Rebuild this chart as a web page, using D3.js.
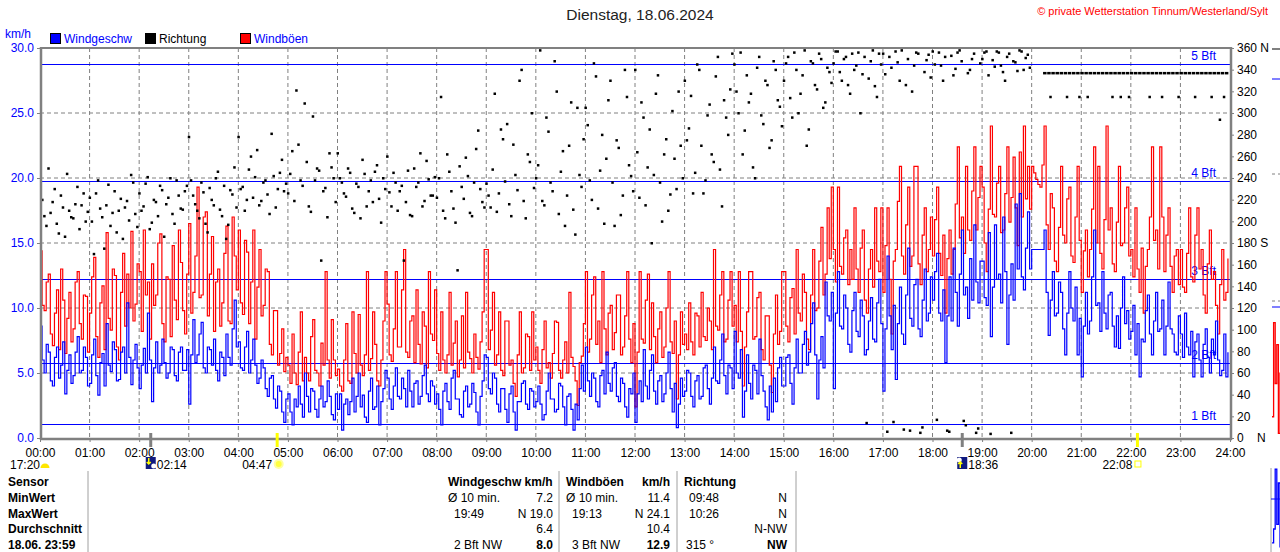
<!DOCTYPE html>
<html>
<head>
<meta charset="utf-8">
<script src="https://cdn.jsdelivr.net/npm/d3@7"></script>
<style>
body { margin: 0; background: #fff; }
svg { display: block; font-family: "Liberation Sans", Arial, sans-serif; }
</style>
</head>
<body>
<svg id="chart" width="1280" height="552"></svg>
<script>
// Wind: ein Wert alle 2,5 Minuten (00:00 ... 23:57)
const hours = d3.range(0, 25);
const speedTicks = [0, 5, 10, 15, 20, 25, 30];
const dirTicks = d3.range(0, 361, 20);
const bftLevels = [1.1, 5.8, 12.2, 19.8, 28.8];
const bftLabels = ["1 Bft", "2 Bft", "3 Bft", "4 Bft", "5 Bft"];

const gust = [
  14.4, 10.2, 9.8, 12.0, 12.6, 8.0, 7.1, 9.6, 11.4, 6.8, 13.0, 10.6, 6.5, 9.2, 11.2, 7.4, 8.4, 12.0, 12.8, 8.8, 7.6, 11.0, 10.9, 6.6,
  9.6, 12.4, 13.9, 7.8, 6.2, 10.4, 11.7, 6.8, 15.8, 9.2, 8.3, 13.0, 12.5, 7.0, 6.0, 11.2, 14.2, 8.6, 12.6, 10.0, 15.9, 9.0, 10.3, 13.4,
  12.8, 8.2, 16.0, 11.0, 12.0, 7.6, 13.4, 10.2, 11.0, 15.0, 15.7, 8.8, 7.4, 12.4, 12.2, 7.8, 14.8, 10.6, 9.1, 16.0, 13.5, 9.8, 8.0, 12.6,
  16.5, 9.6, 11.2, 14.0, 19.3, 10.8, 11.0, 17.0, 17.4, 9.4, 12.6, 15.5, 8.2, 12.0, 13.0, 8.6, 10.4, 14.2, 16.3, 9.0, 8.8, 17.0, 14.0, 11.4,
  16.0, 10.4, 9.5, 15.2, 14.3, 8.8, 12.0, 16.0, 7.6, 11.6, 14.5, 9.4, 10.2, 13.0, 12.8, 7.2, 6.4, 9.8, 9.8, 5.6, 6.5, 8.4, 5.1, 6.2,
  5.6, 4.2, 8.0, 5.0, 4.1, 6.6, 9.7, 4.4, 6.2, 5.0, 4.4, 7.8, 9.1, 5.2, 5.0, 4.0, 7.3, 5.6, 12.8, 6.0, 4.6, 9.1, 6.0, 4.8,
  5.3, 4.0, 3.6, 6.0, 8.8, 4.4, 4.2, 9.7, 6.5, 5.0, 9.5, 5.6, 4.8, 6.4, 12.8, 5.2, 6.1, 9.7, 7.2, 4.4, 4.0, 6.0, 9.0, 12.8,
  10.3, 6.4, 5.9, 8.4, 12.8, 7.0, 7.0, 11.4, 14.5, 6.6, 6.2, 9.0, 9.4, 5.8, 11.4, 7.2, 5.7, 9.7, 8.6, 5.4, 12.8, 8.0, 7.5, 11.4,
  6.5, 5.2, 9.7, 6.0, 5.0, 6.4, 11.2, 5.6, 7.3, 9.0, 4.7, 6.0, 9.4, 5.4, 11.2, 6.6, 6.1, 5.0, 8.0, 6.2, 5.3, 7.4, 9.7, 14.5,
  14.5, 6.8, 8.3, 11.2, 5.6, 6.4, 9.7, 5.2, 4.8, 9.0, 9.0, 5.6, 6.0, 4.2, 3.2, 6.4, 9.7, 5.0, 5.4, 8.0, 7.8, 5.2, 9.7, 6.0,
  7.0, 5.2, 4.2, 6.8, 9.0, 5.4, 5.8, 4.6, 6.5, 9.0, 8.9, 5.2, 4.6, 6.0, 7.4, 5.0, 11.2, 6.2, 5.5, 4.4, 2.5, 5.8, 6.3, 8.8,
  12.8, 6.6, 7.6, 11.0, 12.4, 7.2, 9.0, 5.8, 12.8, 8.4, 6.4, 9.6, 10.2, 6.8, 8.1, 11.0, 11.0, 6.4, 7.0, 9.4, 12.8, 7.6, 5.8, 8.8,
  2.4, 6.6, 12.8, 7.6, 7.3, 10.6, 12.6, 6.8, 10.4, 7.8, 5.8, 8.4, 9.7, 6.2, 7.0, 10.0, 12.8, 7.4, 6.5, 9.0, 3.0, 6.4, 9.7, 7.2,
  8.0, 6.8, 10.4, 7.4, 6.4, 9.6, 9.4, 7.0, 11.2, 7.8, 7.5, 10.0, 9.0, 6.8, 14.5, 8.6, 8.3, 11.0, 12.8, 7.4, 7.6, 10.6, 12.8, 8.6,
  10.2, 7.4, 12.8, 8.2, 4.0, 7.0, 9.7, 12.8, 12.8, 7.6, 7.8, 10.8, 11.2, 6.8, 6.0, 9.4, 9.4, 5.6, 3.5, 8.0, 11.0, 7.2, 8.2, 12.8,
  12.8, 8.6, 7.4, 10.8, 11.5, 8.0, 14.5, 9.6, 9.0, 12.6, 11.2, 7.6, 6.8, 11.0, 14.5, 9.8, 10.0, 13.6, 16.2, 11.0, 12.6, 17.7, 13.8, 19.3,
  14.5, 12.0, 19.3, 13.2, 12.6, 15.4, 16.0, 11.8, 14.5, 12.2, 17.7, 13.0, 11.2, 14.6, 16.0, 10.6, 9.6, 13.0, 14.5, 11.6, 17.7, 13.6, 12.8, 17.7,
  11.2, 14.8, 17.7, 12.2, 8.0, 13.6, 14.5, 18.2, 20.9, 14.0, 12.6, 16.4, 19.3, 13.2, 14.0, 20.9, 20.9, 13.4, 11.8, 15.6, 17.7, 12.8, 14.5, 17.0,
  14.0, 16.8, 19.3, 14.2, 12.5, 15.6, 9.6, 13.8, 16.0, 12.6, 14.5, 18.0, 22.4, 15.4, 17.0, 14.2, 20.9, 16.0, 15.2, 19.0, 22.4, 16.0, 18.5, 20.9,
  19.3, 15.0, 12.8, 17.6, 24.0, 17.2, 17.0, 19.6, 20.9, 15.8, 16.0, 18.8, 22.4, 16.6, 18.5, 21.6, 17.7, 14.8, 22.0, 17.0, 24.0, 18.4, 20.9, 17.6,
  20.9, 20.4, 19.9, 19.5, 19.3, 21.0, 24.0, 16.4, 14.5, 18.8, 17.7, 13.6, 12.8, 16.2, 20.9, 15.6, 15.0, 18.4, 19.3, 14.0, 13.5, 17.0, 20.9, 15.2,
  11.2, 14.4, 16.0, 12.4, 14.5, 17.6, 22.4, 15.0, 20.9, 14.2, 13.0, 16.8, 24.0, 16.0, 17.7, 13.4, 12.8, 16.6, 20.9, 14.8, 15.0, 17.7, 19.3, 14.0,
  14.5, 12.4, 17.7, 13.0, 11.2, 14.6, 9.6, 13.2, 14.5, 17.0, 22.4, 15.2, 16.0, 13.0, 22.4, 17.0, 12.8, 15.6, 17.7, 13.2, 11.2, 14.0, 14.5, 11.8,
  14.5, 11.6, 11.2, 14.2, 17.7, 12.4, 12.0, 15.6, 17.7, 13.0, 14.5, 11.0, 9.6, 13.4, 16.0, 12.2, 12.8, 10.2, 8.0, 11.8, 14.5, 10.6, 11.2, 13.8
];

const speed = [
  8.6, 6.0, 5.0, 7.2, 6.6, 4.4, 4.0, 6.2, 7.0, 4.6, 5.6, 7.4, 3.4, 5.2, 6.4, 4.2, 4.8, 6.6, 7.8, 5.0, 5.2, 7.0, 6.2, 4.0,
  4.2, 6.4, 7.6, 4.8, 3.3, 5.8, 6.5, 4.0, 8.8, 5.6, 5.1, 7.4, 6.8, 4.4, 4.5, 6.6, 7.0, 5.0, 10.4, 6.2, 4.1, 6.0, 7.2, 5.4,
  3.8, 5.6, 6.9, 5.0, 9.6, 6.0, 2.8, 5.4, 7.4, 5.0, 5.6, 7.6, 5.8, 4.6, 5.0, 7.0, 6.8, 4.8, 4.4, 6.6, 7.0, 5.2, 5.2, 6.8,
  2.6, 6.4, 9.1, 5.8, 6.4, 8.0, 8.9, 5.4, 5.0, 7.0, 6.8, 5.6, 7.6, 5.2, 4.4, 6.6, 6.2, 4.8, 8.0, 6.2, 5.6, 8.4, 10.6, 7.0,
  7.4, 5.4, 5.2, 7.0, 8.2, 5.0, 6.0, 7.6, 5.6, 4.2, 4.6, 6.0, 5.4, 3.8, 3.2, 4.6, 4.8, 3.0, 2.3, 4.0, 3.6, 2.0, 1.2, 3.0,
  3.4, 2.0, 1.0, 3.0, 2.4, 4.0, 2.6, 1.6, 5.0, 3.2, 2.0, 3.8, 3.6, 2.2, 1.6, 3.0, 4.0, 2.4, 2.8, 4.4, 3.2, 1.8, 1.4, 3.4,
  2.2, 3.4, 0.6, 2.6, 3.0, 1.8, 2.8, 4.6, 2.0, 3.2, 5.0, 2.4, 3.3, 1.6, 1.2, 3.6, 4.6, 2.2, 2.4, 4.0, 1.0, 2.8, 3.8, 5.2,
  4.6, 3.0, 2.2, 4.0, 5.4, 3.2, 3.0, 4.6, 3.8, 2.4, 5.2, 3.6, 2.4, 4.2, 4.4, 2.6, 3.2, 4.8, 5.6, 3.4, 2.8, 4.4, 4.0, 2.6,
  3.4, 2.2, 1.0, 3.6, 4.2, 2.8, 2.2, 4.6, 5.2, 3.0, 3.0, 1.8, 1.6, 3.6, 4.0, 2.4, 2.6, 4.2, 3.5, 2.0, 1.0, 3.2, 4.4, 6.4,
  6.2, 3.8, 3.4, 5.0, 4.6, 2.6, 2.0, 3.8, 3.8, 2.2, 1.2, 3.4, 4.0, 2.0, 0.6, 2.8, 2.8, 4.2, 4.4, 2.6, 2.2, 3.8, 3.6, 2.4,
  2.8, 4.0, 2.6, 1.4, 1.8, 3.6, 5.0, 3.0, 3.0, 2.0, 2.2, 4.2, 4.0, 2.4, 1.0, 3.2, 3.4, 2.2, 0.6, 2.6, 1.4, 3.8, 5.6, 3.6,
  7.0, 4.4, 3.2, 5.0, 4.6, 2.8, 2.4, 4.8, 5.2, 3.4, 6.6, 4.2, 3.6, 5.4, 5.8, 3.2, 2.8, 4.6, 4.2, 2.4, 1.6, 3.8, 3.4, 5.0,
  1.2, 3.4, 4.4, 2.8, 6.8, 4.0, 3.0, 5.2, 6.4, 3.6, 2.6, 4.4, 4.8, 2.8, 3.4, 5.0, 6.6, 3.8, 2.0, 4.2, 0.8, 2.6, 4.6, 3.2,
  3.6, 5.2, 5.0, 3.2, 2.4, 4.4, 4.8, 3.0, 3.2, 5.4, 5.6, 3.8, 2.6, 4.6, 7.0, 4.4, 4.2, 6.0, 8.0, 4.8, 3.4, 5.6, 5.4, 3.8,
  8.2, 5.0, 4.6, 6.8, 1.6, 3.6, 6.4, 4.2, 3.0, 5.6, 5.2, 3.4, 7.6, 4.8, 3.6, 2.4, 1.4, 4.0, 2.0, 4.6, 2.8, 5.4, 6.2, 4.0,
  4.0, 6.2, 6.4, 4.2, 2.6, 5.4, 7.6, 5.0, 5.0, 7.2, 8.2, 5.6, 6.6, 8.8, 10.4, 6.4, 3.0, 6.0, 7.8, 5.4, 12.0, 9.4, 9.0, 11.2,
  3.8, 9.6, 12.8, 8.6, 8.4, 11.0, 10.0, 7.2, 6.6, 9.8, 11.2, 8.2, 7.8, 10.6, 9.4, 6.4, 6.8, 9.0, 10.8, 7.6, 7.4, 10.4, 12.2, 8.8,
  3.6, 8.4, 14.0, 9.4, 6.8, 10.2, 4.5, 8.8, 11.6, 8.0, 7.2, 11.0, 14.6, 9.2, 8.6, 11.8, 12.2, 8.4, 7.8, 10.6, 13.0, 9.0, 9.6, 12.4,
  10.6, 12.8, 14.2, 9.6, 9.0, 11.4, 5.8, 9.4, 12.4, 9.0, 14.6, 11.2, 8.6, 12.6, 16.0, 11.0, 11.6, 9.2, 13.8, 10.6, 16.4, 12.0, 10.4, 13.6,
  13.6, 10.8, 10.2, 15.8, 7.8, 11.6, 16.4, 12.2, 12.6, 10.4, 17.0, 12.8, 7.2, 11.0, 13.4, 10.6, 18.0, 13.0, 18.8, 12.4, 11.4, 14.6, 17.4, 13.0,
  14.5, 14.5, 14.5, 14.5, 14.5, 14.5, 16.0, 11.2, 7.9, 10.6, 12.8, 9.4, 9.6, 12.0, 11.2, 8.4, 6.4, 9.6, 12.8, 10.0, 9.0, 11.6, 6.4, 9.2,
  4.7, 8.6, 11.2, 8.0, 9.0, 12.4, 16.0, 10.2, 10.4, 8.2, 12.8, 9.6, 8.4, 11.0, 11.2, 8.6, 7.0, 9.4, 6.9, 10.0, 12.4, 8.8, 9.8, 7.6,
  8.2, 10.2, 6.4, 8.8, 4.7, 7.6, 7.4, 9.8, 11.0, 8.0, 6.4, 9.0, 11.2, 8.2, 8.4, 10.6, 6.4, 8.6, 12.0, 8.4, 8.0, 6.6, 6.4, 9.4,
  8.0, 6.2, 9.6, 7.0, 6.4, 8.2, 4.7, 7.4, 8.0, 6.0, 4.7, 7.2, 8.4, 6.2, 5.0, 7.6, 6.4, 9.0, 6.0, 4.8, 5.2, 8.0, 4.7, 6.6
];

// Richtung in Grad: dirA zur vollen 5-Minute, dirB 2,5 Minuten später
const dirA = [
  212, 205, 249, 218, 198, 224, 186, 210, 203, 232, 215, 200,
  222, 170, 238, 204, 215, 196, 228, 210, 184, 219, 243, 207,
  226, 214, 241, 199, 218, 233, 186, 222, 207, 238, 212, 228,
  278, 224, 210, 236, 198, 231, 215, 246, 205, 184, 229, 250,
  278, 232, 220, 260, 241, 215, 236, 225, 281, 213, 245, 228,
  226, 265, 321, 238, 309, 214, 297, 249, 164, 231, 263, 240,
  263, 236, 223, 245, 208, 232, 257, 214, 238, 246, 221, 240,
  260, 214, 236, 228, 164, 247, 205, 232, 263, 219, 239, 224,
  222, 315, 203, 246, 212, 155, 232, 259, 208, 236, 284, 218,
  235, 213, 318, 226, 276, 290, 205, 243, 330, 219, 262, 300,
  240, 358, 215, 283, 228, 320, 246, 196, 270, 211, 305, 232,
  305, 238, 346, 212, 280, 258, 330, 196, 268, 224, 315, 242,
  340, 222, 296, 250, 180, 318, 236, 262, 210, 302, 230, 270,
  330, 286, 226, 345, 270, 238, 308, 255, 352, 214, 296, 322,
  345, 300, 262, 335, 318, 240, 352, 290, 326, 275, 340, 306,
  330, 352, 296, 340, 318, 358, 285, 346, 322, 350, 310, 338,
  346, 357, 330, 352, 318, 340, 356, 336, 14, 348, 325, 355,
  355, 6, 342, 357, 330, 8, 350, 320, 356, 5, 338, 354,
  357, 17, 344, 352, 6, 335, 356, 348, 12, 340, 355, 9,
  350, 357, 4, 343, 356, 338, 352, 5, 347, 358, 340, 354,
  null, null, null, 337, 337, 337, 337, 337, 337, 337, 337, 337,
  337, 337, 337, 337, 337, 337, 337, 337, 337, 337, 337, 337,
  337, 337, 337, 337, 337, 337, 337, 337, 337, 337, 337, 337,
  337, 337, 337, 337, 337, 337, 337, 337, 337, 337, 337, 337
];

const dirB = [
  220, 196, 208, 230, 189, 213, 244, 204, 216, 193, 226, 209,
  200, 226, 212, 175, 234, 208, 190, 221, 213, 201, 236, 195,
  210, 235, 193, 220, 205, 229, 216, 240, 198, 224, 211, 233,
  238, 216, 203, 227, 190, 220, 240, 211, 233, 197, 225, 213,
  230, 210, 248, 222, 266, 219, 238, 207, 242, 230, 257, 235,
  244, 219, 271, 233, 255, 209, 238, 247, 228, 204, 250, 218,
  240, 226, 249, 212, 235, 203, 244, 228, 218, 252, 199, 230,
  227, 245, 210, 233, 218, 206, 249, 236, 214, 256, 224, 241,
  240, 210, 262, 228, 199, 251, 221, 242, 205, 267, 230, 213,
  224, 248, 209, 285, 237, 216, 271, 229, 340, 203, 255, 231,
  252, 219, 296, 236, 348, 207, 265, 224, 310, 188, 243, 276,
  289, 220, 334, 247, 198, 312, 236, 275, 206, 340, 252, 228,
  264, 310, 215, 285, 243, 335, 200, 276, 225, 258, 320, 240,
  275, 316, 245, 340, 226, 298, 262, 334, 248, 312, 280, 355,
  320, 356, 284, 310, 250, 342, 298, 330, 268, 348, 312, 288,
  346, 314, 356, 300, 335, 270, 348, 326, 355, 305, 342, 328,
  357, 338, 350, 326, 355, 344, 300, 352, 332, 358, 315, 345,
  336, 352, 15, 347, 358, 326, 7, 344, 355, 10, 349, 333,
  345, 356, 330, 7, 353, 341, 358, 16, 337, 350, 5, 346,
  356, 335, 349, 357, 344, 330, 355, 348, 339, 357, 351, 342,
  null, null, null, null, 315, null, null, null, 315, null, null, 315,
  null, 315, null, null, null, null, null, 315, null, 315, null, 315,
  null, null, null, null, 315, null, null, 315, null, null, null, 315,
  null, null, null, 315, null, null, null, 315, null, 294, 315, null
];

const legendItems = [
  { name: "Windgeschw", box: "#0000ff", text: "#0000ff" },
  { name: "Richtung", box: "#000000", text: "#000000" },
  { name: "Windböen", box: "#ff0000", text: "#0000ff" }
];

const sunEvents = [
  { time: "02:14", kind: "moonset" },
  { time: "04:47", kind: "sunrise" },
  { time: "18:36", kind: "moonrise" },
  { time: "22:08", kind: "sunset" }
];

const tableRows = ["Sensor", "MinWert", "MaxWert", "Durchschnitt", "18.06. 23:59"];
const speedCol = [["Windgeschw km/h", ""], ["Ø 10 min.", "7.2"], ["19:49", "N 19.0"], ["", "6.4"], ["2 Bft NW", "8.0"]];
const gustCol = [["Windböen", "km/h"], ["Ø 10 min.", "11.4"], ["19:13", "N 24.1"], ["", "10.4"], ["3 Bft NW", "12.9"]];
const dirCol = [["Richtung", ""], ["09:48", "N"], ["10:26", "N"], ["", "N-NW"], ["315 °", "NW"]];

// Reste der nächsten Grafik am rechten Rand
const edgeGust = [3.0, 11.5, 6.0, 9.5, 1.5, 7.0];
const edgeSpeed = [1.0, 2.5, 9.0, 3.0, 7.5, 0.5];

const FONT = "Liberation Sans, Arial, sans-serif";
const GRAY = "#808080";
const svg = d3.select("#chart");

const x = d3.scaleLinear().domain([0, 1440]).range([40, 1230]);
const y = d3.scaleLinear().domain([0, 30]).range([438, 48]);
const yDir = d3.scaleLinear().domain([0, 360]).range([438, 48]);
const toMin = s => +s.slice(0, 2) * 60 + +s.slice(3, 5);

// Titel
svg.append("text").attr("x", 640).attr("y", 20).attr("text-anchor", "middle")
  .attr("font-size", 15.5).attr("fill", "#222").text("Dienstag, 18.06.2024");
svg.append("text").attr("x", 1268).attr("y", 15).attr("text-anchor", "end")
  .attr("font-size", 11).attr("fill", "#ff0000")
  .text("© private Wetterstation Tinnum/Westerland/Sylt");

svg.append("text").attr("x", 5).attr("y", 38).attr("font-size", 12)
  .attr("fill", "#0000ff").text("km/h");

// Legende
const leg = svg.append("g").selectAll("g").data(legendItems).join("g")
  .attr("transform", (d, i) => `translate(${50 + i * 95},33)`);
leg.append("rect").attr("x", 0.5).attr("y", 0.5).attr("width", 10).attr("height", 10)
  .attr("fill", d => d.box).attr("stroke", "#000");
leg.append("text").attr("x", 14).attr("y", 9.5).attr("font-size", 12)
  .attr("fill", d => d.text).text(d => d.name);

// Gitter
const grid = svg.append("g");
grid.selectAll("line.v").data(hours.slice(1, 24)).join("line").attr("class", "v")
  .attr("x1", h => x(h * 60)).attr("x2", h => x(h * 60))
  .attr("y1", 48).attr("y2", 438)
  .attr("stroke", GRAY).attr("stroke-dasharray", "4,3");
grid.selectAll("line.h").data(speedTicks.slice(1, 6)).join("line").attr("class", "h")
  .attr("x1", 40).attr("x2", 1230)
  .attr("y1", d => y(d)).attr("y2", d => y(d))
  .attr("stroke", GRAY).attr("stroke-dasharray", "4,3");

// Beaufort-Linien
const bft = svg.append("g");
bft.selectAll("line").data(bftLevels).join("line")
  .attr("x1", 40).attr("x2", 1230)
  .attr("y1", d => Math.round(y(d)) + 0.5).attr("y2", d => Math.round(y(d)) + 0.5)
  .attr("stroke", "#0000ff");
bft.selectAll("text").data(bftLevels).join("text")
  .attr("x", 1216).attr("y", d => y(d) - 4).attr("text-anchor", "end")
  .attr("font-size", 12).attr("fill", "#0000ff")
  .text((d, i) => bftLabels[i]);

// Daten
svg.append("clipPath").attr("id", "plot")
  .append("rect").attr("x", 40).attr("y", 48).attr("width", 1190).attr("height", 390);
const data = svg.append("g").attr("clip-path", "url(#plot)");

const line = d3.line()
  .defined(d => d != null)
  .x((d, i) => x(i * 2.5))
  .y(d => y(d))
  .curve(d3.curveStepAfter);

data.append("path").datum(gust).attr("d", line)
  .attr("fill", "none").attr("stroke", "#ff0000").attr("stroke-width", 1.2);
data.append("path").datum(speed).attr("d", line)
  .attr("fill", "none").attr("stroke", "#0000ff").attr("stroke-width", 1.2);

const dots = dirA.map((d, i) => ({ t: i * 5, d }))
  .concat(dirB.map((d, i) => ({ t: i * 5 + 2.5, d })))
  .filter(p => p.d != null);
data.append("g").selectAll("rect").data(dots).join("rect")
  .attr("x", p => x(p.t) - 1).attr("y", p => yDir(p.d) - 1)
  .attr("width", p => p.t >= 1200 && p.d === 337 ? 3.5 : 2.5).attr("height", 2.5)
  .attr("fill", "#000");

// Achsen
const axL = svg.append("g").attr("transform", "translate(40,0)")
  .call(d3.axisLeft(y).tickValues(speedTicks).tickFormat(d3.format(".1f")).tickSize(3).tickPadding(3));
axL.attr("font-family", FONT).attr("font-size", 12);
axL.select(".domain").remove();
axL.selectAll("line").attr("stroke", GRAY);
axL.selectAll("text").attr("fill", "#0000ff");

const dirFmt = d => d === 360 ? "360 N" : d === 180 ? "180 S" : d === 0 ? "0\u00a0\u00a0\u00a0\u00a0N" : d;
const axR = svg.append("g").attr("transform", "translate(1230,0)")
  .call(d3.axisRight(yDir).tickValues(dirTicks).tickFormat(dirFmt).tickSize(4).tickPadding(3));
axR.attr("font-family", FONT).attr("font-size", 12);
axR.select(".domain").remove();
axR.selectAll("line").attr("stroke", GRAY);
axR.selectAll("text").attr("fill", "#000");

const axB = svg.append("g").attr("transform", "translate(0,438)")
  .call(d3.axisBottom(x).tickValues(hours.map(h => h * 60))
    .tickFormat(m => String(m / 60).padStart(2, "0") + ":00").tickSize(4).tickPadding(6));
axB.attr("font-family", FONT).attr("font-size", 12);
axB.select(".domain").remove();
axB.selectAll("line").attr("stroke", GRAY);
axB.selectAll("text").attr("fill", "#000").attr("y", 10);

// Rahmen
const frame = svg.append("g").attr("stroke", GRAY).attr("fill", "none");
frame.append("line").attr("x1", 40).attr("x2", 1231).attr("y1", 48).attr("y2", 48).attr("stroke-width", 2);
frame.append("line").attr("x1", 41).attr("x2", 41).attr("y1", 47).attr("y2", 440).attr("stroke-width", 2.5);
frame.append("line").attr("x1", 1231).attr("x2", 1231).attr("y1", 47).attr("y2", 440).attr("stroke-width", 2.5);
frame.append("line").attr("x1", 40).attr("x2", 1232).attr("y1", 439).attr("y2", 439).attr("stroke-width", 2.5);

// Sonnen- und Mondzeiten
const ev = svg.append("g").attr("font-size", 12).attr("fill", "#000");
ev.append("text").attr("x", 10).attr("y", 469).text("17:20");
ev.append("path").attr("d", d3.arc()({ innerRadius: 0, outerRadius: 4.5, startAngle: -Math.PI / 2, endAngle: Math.PI / 2 }))
  .attr("transform", "translate(45,468)").attr("fill", "#ffe600");

sunEvents.forEach(e => {
  const px = x(toMin(e.time));
  const moon = e.kind === "moonset" || e.kind === "moonrise";
  ev.append("line").attr("x1", px).attr("x2", px).attr("y1", 433).attr("y2", 447)
    .attr("stroke", moon ? GRAY : "#ffff00").attr("stroke-width", 3);
  if (moon) {
    ev.append("rect").attr("x", px - 5).attr("y", 457).attr("width", 10).attr("height", 12).attr("fill", "#101a80");
    ev.append("circle").attr("cx", e.kind === "moonset" ? px + 3 : px - 3).attr("cy", e.kind === "moonset" ? 466 : 460)
      .attr("r", 2.5).attr("fill", "#fff");
    const ay = e.kind === "moonset" ? [458, 464] : [468, 462];
    const back = ay[1] > ay[0] ? -2 : 2;
    ev.append("path").attr("d", `M${px - 2},${ay[0]}L${px - 2},${ay[1]}M${px - 4},${ay[1] + back}L${px - 2},${ay[1]}L${px},${ay[1] + back}`)
      .attr("stroke", "#ffff00").attr("stroke-width", 1.5).attr("fill", "none");
    ev.append("text").attr("x", px + 6).attr("y", 469).text(e.time);
  } else {
    ev.append("text").attr("x", px - 5).attr("y", 469).attr("text-anchor", "end").text(e.time);
    if (e.kind === "sunrise") {
      ev.append("circle").attr("cx", px + 1.5).attr("cy", 464).attr("r", 5).attr("fill", "#ffffa0");
      ev.append("circle").attr("cx", px + 1.5).attr("cy", 464).attr("r", 3).attr("fill", "#ffff40");
    } else {
      ev.append("rect").attr("x", px - 2.5).attr("y", 461).attr("width", 6).attr("height", 6)
        .attr("fill", "none").attr("stroke", "#ffff00");
    }
  }
});

// Tabelle
const rowY = i => 486 + i * 15.75;
const tab = svg.append("g").attr("font-size", 12).attr("fill", "#000");
tab.selectAll("line").data([88, 559, 677, 796]).join("line")
  .attr("x1", d => d).attr("x2", d => d).attr("y1", 471).attr("y2", 552)
  .attr("stroke", "#a0a0a0");
tab.selectAll("text.lab").data(tableRows).join("text").attr("class", "lab")
  .attr("x", 8).attr("y", (d, i) => rowY(i)).attr("font-weight", "bold").text(d => d);

const cols = [
  { rows: speedCol, left: [448, 448, 454, 454, 454], right: 553 },
  { rows: gustCol, left: [566, 566, 572, 572, 572], right: 670 },
  { rows: dirCol, left: [684, 689, 689, 689, 686], right: 787 }
];
cols.forEach(c => {
  c.rows.forEach((r, i) => {
    tab.append("text").attr("x", c.left[i]).attr("y", rowY(i))
      .attr("font-weight", i === 0 ? "bold" : "normal").text(r[0]);
    tab.append("text").attr("x", c.right).attr("y", rowY(i)).attr("text-anchor", "end")
      .attr("font-weight", i === 0 || i === 4 ? "bold" : "normal").text(r[1]);
  });
});

// rechter Rand: Anschnitt der Nachbargrafik
const edge = svg.append("g");
edge.append("line").attr("x1", 1272).attr("x2", 1280).attr("y1", 49).attr("y2", 49).attr("stroke", GRAY).attr("stroke-width", 2);
edge.append("line").attr("x1", 1272).attr("x2", 1280).attr("y1", 79).attr("y2", 79).attr("stroke", "#0000ff");
[174, 301].forEach(v => edge.append("line").attr("x1", 1272).attr("x2", 1280).attr("y1", v).attr("y2", v)
  .attr("stroke", GRAY).attr("stroke-dasharray", "3,3"));
edge.append("line").attr("x1", 1272).attr("x2", 1280).attr("y1", 307).attr("y2", 307).attr("stroke", "#0000ff");
edge.append("line").attr("x1", 1271).attr("x2", 1271).attr("y1", 468).attr("y2", 552).attr("stroke", "#a0a0a0");
edge.append("line").attr("x1", 1271).attr("x2", 1280).attr("y1", 499).attr("y2", 499).attr("stroke", "#0000ff");
const ex = d3.scaleLinear().domain([0, edgeGust.length - 1]).range([1272, 1280]);
const eyG = d3.scaleLinear().domain([0, 12]).range([450, 317]);
const eyS = d3.scaleLinear().domain([0, 10]).range([552, 460]);
edge.append("path").datum(edgeGust)
  .attr("d", d3.line().x((d, i) => ex(i)).y(d => eyG(d)).curve(d3.curveStepAfter))
  .attr("fill", "none").attr("stroke", "#ff0000").attr("stroke-width", 1.3);
edge.append("path").datum(edgeSpeed)
  .attr("d", d3.line().x((d, i) => ex(i)).y(d => eyS(d)).curve(d3.curveStepAfter))
  .attr("fill", "none").attr("stroke", "#0000ff").attr("stroke-width", 1.3);
</script>
</body>
</html>
